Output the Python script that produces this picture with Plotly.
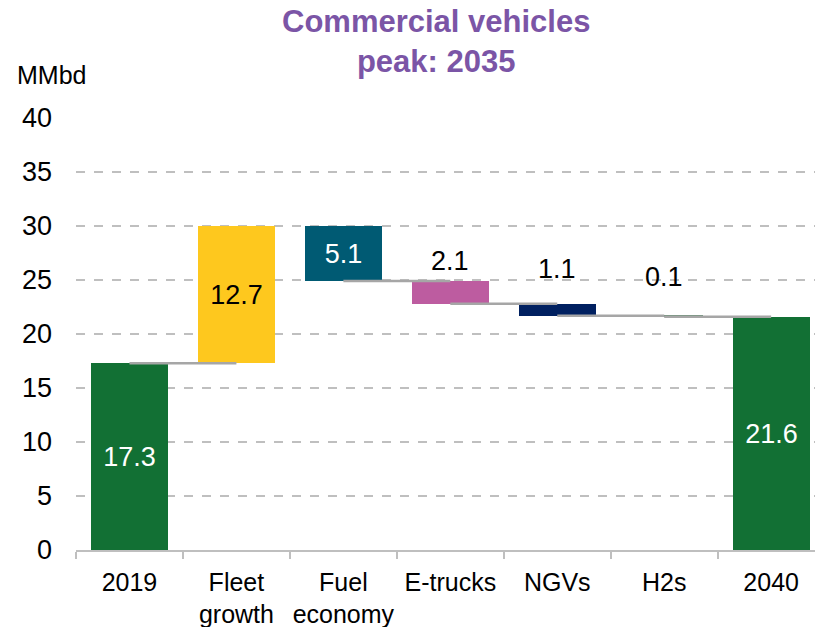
import plotly.graph_objects as go

# Commercial vehicles oil demand bridge, 2019 -> 2040 (MMbd)
categories = ["2019", "Fleet<br>growth", "Fuel<br>economy", "E-trucks", "NGVs", "H2s", "2040"]
start_value = 17.3
changes = [12.7, -5.1, -2.1, -1.1, -0.1]
end_value = 21.6
y_ticks = [0, 5, 10, 15, 20, 25, 30, 35, 40]

colors = ["#127034", "#FEC81E", "#005A73", "#BD5CA0", "#002060", "#5E8D6C", "#127034"]
label_colors = ["white", "black", "white", "black", "black", "black", "white"]
inside = [True, True, True, False, False, False, True]
label_shift = [0, 0, 0, 3, 18, 22, 0]

# running levels and bar extents
levels = [start_value]
for c in changes:
    levels.append(round(levels[-1] + c, 2))
bases, heights = [0.0], [start_value]
for i, c in enumerate(changes):
    lo = min(levels[i], levels[i + 1])
    bases.append(lo)
    heights.append(abs(c))
bases.append(0.0)
heights.append(end_value)
values = [start_value] + [abs(c) for c in changes] + [end_value]
xs = list(range(len(categories)))

FONT = "Liberation Sans, Arial, sans-serif"

fig = go.Figure()
fig.add_trace(go.Bar(
    x=xs, y=heights, base=bases, width=0.72,
    marker=dict(color=colors, line=dict(width=0)),
    text=[f"{v:.1f}" if ins else "" for v, ins in zip(values, inside)],
    textposition="inside", insidetextanchor="middle",
    textfont=dict(family=FONT, size=27, color=label_colors),
    constraintext="none", cliponaxis=False, hoverinfo="skip",
))

# connectors from the centre of one bar to the centre of the next;
# a level that falls on a gridline is left to the gridline
cx, cy = [], []
for i, lvl in enumerate(levels):
    if lvl in y_ticks:
        continue
    cx += [xs[i], xs[i + 1], None]
    cy += [lvl, lvl, None]
fig.add_trace(go.Scatter(x=cx, y=cy, mode="lines",
                         line=dict(color="#A6A6A6", width=2.5),
                         hoverinfo="skip", cliponaxis=False))

PLOT_W, PLOT_H, LEFT, TOP = 739, 432, 76, 118

annotations = []
for i, (v, ins) in enumerate(zip(values, inside)):
    if not ins:
        annotations.append(dict(
            x=xs[i], y=bases[i] + heights[i], xref="x", yref="y",
            text=f"{v:.1f}", showarrow=False, yanchor="bottom",
            yshift=label_shift[i],
            font=dict(family=FONT, size=27, color=label_colors[i]),
        ))
annotations.append(dict(
    x=(15 - LEFT) / PLOT_W, y=1 + (TOP - 75) / PLOT_H, xref="paper", yref="paper",
    text="MMbd", showarrow=False, xanchor="left", yanchor="middle",
    font=dict(family=FONT, size=25, color="black"),
))
annotations.append(dict(
    x=(436 - LEFT) / PLOT_W, y=1 + (TOP - 2) / PLOT_H, xref="paper", yref="paper",
    text="<b>Commercial vehicles<br>peak: 2035</b>", showarrow=False,
    xanchor="center", yanchor="top", align="center",
    font=dict(family=FONT, size=31, color="#7B55A6"),
))

fig.update_layout(
    width=815, height=627,
    margin=dict(l=LEFT, r=0, t=TOP, b=77),
    paper_bgcolor="white", plot_bgcolor="white",
    showlegend=False, bargap=0,
    annotations=annotations,
    xaxis=dict(
        range=[-0.5, 6.41], tickvals=xs, ticktext=categories, ticks="",
        tickfont=dict(family=FONT, size=25, color="black"),
        showline=True, linecolor="#BFBFBF", linewidth=1.5, showgrid=False,
        zeroline=False, ticklabelstandoff=9,
        minor=dict(tickvals=[x - 0.5 for x in xs] + [6.5], ticks="outside",
                   ticklen=7, tickcolor="#BFBFBF", tickwidth=1.5, showgrid=False),
    ),
    yaxis=dict(
        range=[0, 40], tickvals=y_ticks, ticks="",
        tickfont=dict(family=FONT, size=27, color="black"),
        showgrid=True, gridcolor="#BFBFBF", gridwidth=1.5, griddash="dash",
        zeroline=False, showline=False, ticklabelstandoff=23,
    ),
)

fig.write_html("out.html")
